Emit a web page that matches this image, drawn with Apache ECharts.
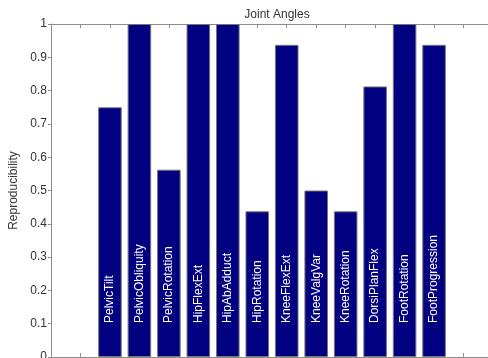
<!DOCTYPE html>
<html>
<head>
<meta charset="utf-8">
<script src="https://cdn.jsdelivr.net/npm/echarts@6/dist/echarts.min.js"></script>
<style>
  html, body { margin: 0; padding: 0; background: #fff; }
  #chart { width: 488px; height: 358px; }
</style>
</head>
<body>
<div id="chart"></div>
<script>
const joints = ['PelvicTilt', 'PelvicObliquity', 'PelvicRotation', 'HipFlexExt', 'HipAbAdduct', 'HipRotation',
  'KneeFlexExt', 'KneeValgVar', 'KneeRotation', 'DorsiPlanFlex', 'FootRotation', 'FootProgression'];
const reproducibility = [0.75, 1, 0.5625, 1, 1, 0.4375, 0.9375, 0.5, 0.4375, 0.8125, 1, 0.9375];
const yTicks = [0, 0.1, 0.2, 0.3, 0.4, 0.5, 0.6, 0.7, 0.8, 0.9, 1];

// matlab-ish x range: -1 .. 14, bars sit on 1..12
const cats = ['-1', '0'].concat(joints, ['13', '14']);
const vals = [null, null].concat(reproducibility, [null, null]);

const axisGray = '#8c8c8c';
const textGray = '#333';

const chart = echarts.init(document.getElementById('chart'));
chart.setOption({
  animation: false,
  title: {
    text: 'Joint Angles',
    left: 272,
    top: 4,
    textAlign: 'center',
    textStyle: {fontFamily: 'Liberation Sans', fontSize: 12, fontWeight: 'normal', color: textGray}
  },
  grid: {left: 51, top: 24, width: 442, height: 333, containLabel: false, outerBoundsMode: 'none'},
  xAxis: [{
    type: 'category',
    position: 'bottom',
    data: cats,
    boundaryGap: false,
    axisLine: {show: true, onZero: false, lineStyle: {color: axisGray, width: 1}},
    axisTick: {show: true, inside: true, interval: 0, length: 4, lineStyle: {color: axisGray}},
    axisLabel: {show: false},
    splitLine: {show: false}
  }, {
    // top box edge, same -1..14 span as the categories
    type: 'value',
    position: 'top',
    min: -1,
    max: 14,
    interval: 1,
    axisLine: {show: true, onZero: false, lineStyle: {color: axisGray, width: 1}},
    axisTick: {show: true, inside: true, length: 4, lineStyle: {color: axisGray}},
    axisLabel: {show: false},
    splitLine: {show: false}
  }],
  yAxis: {
    type: 'value',
    min: 0,
    max: 1,
    interval: 0.1,
    name: 'Reproducibility',
    nameLocation: 'middle',
    nameRotate: 90,
    nameGap: 17,
    nameTextStyle: {fontFamily: 'Liberation Sans', fontSize: 12, color: textGray},
    axisLine: {show: true, onZero: false, lineStyle: {color: axisGray}},
    axisTick: {show: true, length: 3, lineStyle: {color: axisGray}},
    axisLabel: {
      fontFamily: 'Liberation Sans', fontSize: 12, color: textGray, margin: 4,
      formatter: v => yTicks.indexOf(Math.round(v * 10) / 10) >= 0 ? String(Math.round(v * 10) / 10) : ''
    },
    splitLine: {show: false}
  },
  series: [{
    type: 'bar',
    xAxisIndex: 0,
    data: vals,
    barWidth: '80%',
    itemStyle: {color: '#000080', borderColor: '#777', borderWidth: 1},
    label: {
      show: true,
      position: 'insideBottom',
      distance: 34,
      rotate: 90,
      align: 'left',
      verticalAlign: 'middle',
      formatter: '{b}',
      fontFamily: 'Liberation Sans',
      fontSize: 12,
      color: '#fff'
    }
  }]
});
</script>
</body>
</html>
